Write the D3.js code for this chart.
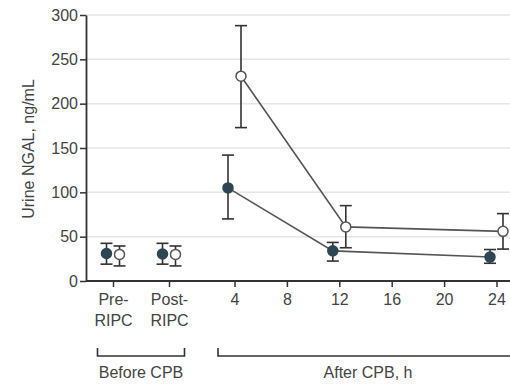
<!DOCTYPE html>
<html>
<head>
<meta charset="utf-8">
<script src="https://cdn.jsdelivr.net/npm/d3@7"></script>
<style>
  html, body { margin: 0; padding: 0; background: #fff; }
  svg { display: block; font-family: "Liberation Sans", Arial, sans-serif; }
</style>
</head>
<body>
<div id="chart"></div>
<script>
// data
const beforeCats = ['Pre-RIPC', 'Post-RIPC'];
const beforeLabels = [['Pre-', 'RIPC'], ['Post-', 'RIPC']];
const afterHours = [4, 12, 24];
const hourTicks = [4, 8, 12, 16, 20, 24];
const yTicks = [0, 50, 100, 150, 200, 250, 300];

// filled circles
const ripcBefore = [31, 30.5];
const ripcBeforeLo = [19, 19];
const ripcBeforeHi = [42.5, 42.5];
const ripcAfter = [105, 34, 27];
const ripcAfterLo = [70, 22.5, 20];
const ripcAfterHi = [142, 43.5, 35.5];

// open circles
const shamBefore = [30, 30];
const shamBeforeLo = [17, 17];
const shamBeforeHi = [39.5, 39.5];
const shamAfter = [231, 61, 56];
const shamAfterLo = [173, 37.5, 36];
const shamAfterHi = [288, 85, 76];

const width = 510, height = 384;
const chart = {left: 86, top: 15, bottom: 281, right: 510};
const offset = 6.5;
const fontSize = 16;

const svg = d3.select('#chart').append('svg')
  .attr('width', width)
  .attr('height', height);

const yScale = d3.scaleLinear().domain([0, 300]).range([chart.bottom, chart.top]);
const xBefore = d3.scalePoint().domain(beforeCats).range([113, 169]);
const xAfter = d3.scaleLinear().domain([4, 24]).range([234.5, 496.5]);

// gridlines
svg.append('g')
  .selectAll('line')
  .data(yTicks.filter(d => d > 0))
  .join('line')
    .attr('x1', chart.left)
    .attr('x2', chart.right)
    .attr('y1', d => yScale(d))
    .attr('y2', d => yScale(d))
    .attr('stroke', '#e6e6e6')
    .attr('stroke-width', 1.5);

// y axis
svg.append('g')
  .attr('transform', `translate(${chart.left},0)`)
  .call(d3.axisLeft(yScale).tickValues(yTicks).tickSize(6).tickSizeOuter(0).tickPadding(2));

// x axis (after CPB)
const xAxisAfter = svg.append('g')
  .attr('transform', `translate(0,${chart.bottom})`)
  .call(d3.axisBottom(xAfter).tickValues(hourTicks).tickSize(6).tickSizeOuter(0).tickPadding(7));
xAxisAfter.select('.domain').remove();

// x axis (before CPB), two-line labels
const xAxisBefore = svg.append('g')
  .attr('transform', `translate(0,${chart.bottom})`)
  .call(d3.axisBottom(xBefore).tickSize(6).tickSizeOuter(0).tickPadding(7).tickFormat(''));
xAxisBefore.select('.domain').remove();
xAxisBefore.selectAll('.tick text')
  .each(function(d, i) {
    const t = d3.select(this);
    beforeLabels[i].forEach((s, j) => {
      t.append('tspan').attr('x', 0).attr('dy', j === 0 ? '0.71em' : '1.3em').text(s);
    });
  });

svg.append('line')
  .attr('x1', chart.left).attr('x2', chart.right)
  .attr('y1', chart.bottom).attr('y2', chart.bottom)
  .attr('stroke', '#333').attr('stroke-width', 1.8);

svg.selectAll('.tick line').attr('stroke', '#333').attr('stroke-width', 1.5);
svg.selectAll('.domain').attr('stroke', '#333').attr('stroke-width', 1.8);
svg.selectAll('.tick text')
  .attr('fill', '#444')
  .attr('font-size', fontSize)
  .attr('font-family', '"Liberation Sans", Arial, sans-serif');

// y label
svg.append('text')
  .attr('transform', 'translate(34,149) rotate(-90)')
  .attr('text-anchor', 'middle')
  .attr('font-size', fontSize)
  .attr('fill', '#444')
  .text('Urine NGAL, ng/mL');

// build series
function makeSeries(name, before, bLo, bHi, after, aLo, aHi, dx) {
  const b = beforeCats.map((c, i) => ({x: xBefore(c) + dx, v: before[i], lo: bLo[i], hi: bHi[i]}));
  const a = afterHours.map((h, i) => ({x: xAfter(h) + dx, v: after[i], lo: aLo[i], hi: aHi[i]}));
  return {name, before: b, after: a};
}
const series = [
  makeSeries('sham', shamBefore, shamBeforeLo, shamBeforeHi, shamAfter, shamAfterLo, shamAfterHi, offset),
  makeSeries('ripc', ripcBefore, ripcBeforeLo, ripcBeforeHi, ripcAfter, ripcAfterLo, ripcAfterHi, -offset)
];

const line = d3.line().x(d => d.x).y(d => yScale(d.v));

series.forEach(s => {
  const g = svg.append('g').attr('class', s.name);
  const pts = s.before.concat(s.after);

  g.append('path')
    .datum(s.after)
    .attr('d', line)
    .attr('fill', 'none')
    .attr('stroke', '#555')
    .attr('stroke-width', 1.6);

  const eb = g.selectAll('.err').data(pts).join('g').attr('class', 'err')
    .attr('stroke', '#333').attr('stroke-width', 1.6);
  eb.append('line')
    .attr('x1', d => d.x).attr('x2', d => d.x)
    .attr('y1', d => yScale(d.lo)).attr('y2', d => yScale(d.hi));
  eb.append('line')
    .attr('x1', d => d.x - 6).attr('x2', d => d.x + 6)
    .attr('y1', d => yScale(d.hi)).attr('y2', d => yScale(d.hi));
  eb.append('line')
    .attr('x1', d => d.x - 6).attr('x2', d => d.x + 6)
    .attr('y1', d => yScale(d.lo)).attr('y2', d => yScale(d.lo));

  g.selectAll('circle').data(pts).join('circle')
    .attr('cx', d => d.x)
    .attr('cy', d => yScale(d.v))
    .attr('r', 5)
    .attr('fill', s.name === 'ripc' ? '#2d4656' : '#fff')
    .attr('stroke', s.name === 'ripc' ? '#2d4656' : '#555')
    .attr('stroke-width', 1.5);
});

// group brackets
const brackets = [
  {label: 'Before CPB', x1: 97.5, x2: 184.5, tx: 141},
  {label: 'After CPB, h', x1: 218, x2: 520, tx: 368}
];
const by = 356;
brackets.forEach(b => {
  svg.append('path')
    .attr('d', `M${b.x1},${by - 8}V${by}H${b.x2}V${by - 8}`)
    .attr('fill', 'none')
    .attr('stroke', '#333')
    .attr('stroke-width', 1.6);
  svg.append('text')
    .attr('x', b.tx).attr('y', 378)
    .attr('text-anchor', 'middle')
    .attr('font-size', fontSize).attr('fill', '#444')
    .text(b.label);
});
</script>
</body>
</html>
